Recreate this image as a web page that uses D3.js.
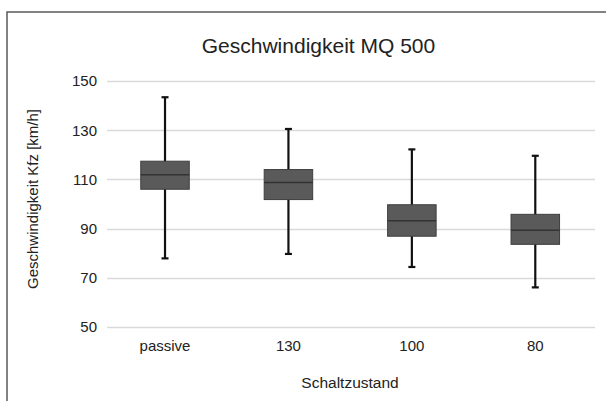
<!DOCTYPE html>
<html>
<head>
<meta charset="utf-8">
<script src="https://cdn.jsdelivr.net/npm/d3@7/dist/d3.min.js"></script>
<style>
  html, body { margin: 0; padding: 0; background: #fff; }
  svg { display: block; }
  text { font-family: "Liberation Sans", Arial, sans-serif; fill: #222; }
</style>
</head>
<body>
<script>
const categories = ["passive", "130", "100", "80"];
const whiskerMax = [143.4, 130.5, 122.2, 119.6];
const q3 = [117.4, 114.0, 99.7, 95.8];
const median = [111.9, 108.7, 93.2, 89.3];
const q1 = [106.0, 101.8, 86.9, 83.6];
const whiskerMin = [77.9, 79.7, 74.4, 66.1];
const yTicks = [50, 70, 90, 110, 130, 150];

const W = 606, H = 401;
const svg = d3.select("body").append("svg").attr("width", W).attr("height", H);

// frame
svg.append("path")
  .attr("d", "M7,401V12H606")
  .attr("fill", "none")
  .attr("stroke", "#595959")
  .attr("stroke-width", 1.5);

const y = d3.scaleLinear().domain([50, 150]).range([327, 81]);
const x = d3.scaleBand().domain(categories).range([103.3, 597]).paddingInner(0).paddingOuter(0);

// gridlines
svg.append("g").selectAll("line").data(yTicks).join("line")
  .attr("x1", 107).attr("x2", 595)
  .attr("y1", d => Math.round(y(d)) + 0.5).attr("y2", d => Math.round(y(d)) + 0.5)
  .attr("stroke", "#d9d9d9").attr("stroke-width", 1.5);

// y axis labels
const yAxis = d3.axisLeft(y).tickValues(yTicks).tickSize(0).tickPadding(0);
const gy = svg.append("g").attr("transform", "translate(97,0)").call(yAxis);
gy.select(".domain").remove();
gy.selectAll("text").style("font-size", "15px").attr("fill", "#222")
  .style("font-family", '"Liberation Sans", Arial, sans-serif');

// x axis labels
const xAxis = d3.axisBottom(x).tickSize(0).tickPadding(0);
const gx = svg.append("g").attr("transform", "translate(0,340)").call(xAxis);
gx.select(".domain").remove();
gx.selectAll("text").style("font-size", "15px").attr("fill", "#222")
  .attr("dy", "0.71em")
  .style("font-family", '"Liberation Sans", Arial, sans-serif');

// boxes
const bw = x.bandwidth() * 0.393;
const data = categories.map((c, i) => ({c, hi: whiskerMax[i], q3: q3[i], med: median[i], q1: q1[i], lo: whiskerMin[i]}));
const g = svg.append("g").selectAll("g").data(data).join("g")
  .attr("transform", d => `translate(${x(d.c) + x.bandwidth() / 2},0)`);

g.append("line").attr("x1", 0).attr("x2", 0)
  .attr("y1", d => y(d.hi)).attr("y2", d => y(d.lo))
  .attr("stroke", "#111").attr("stroke-width", 2.2);
g.append("line").attr("x1", -3.5).attr("x2", 3.5)
  .attr("y1", d => y(d.hi)).attr("y2", d => y(d.hi))
  .attr("stroke", "#111").attr("stroke-width", 2.2);
g.append("line").attr("x1", -3.5).attr("x2", 3.5)
  .attr("y1", d => y(d.lo)).attr("y2", d => y(d.lo))
  .attr("stroke", "#111").attr("stroke-width", 2.2);
g.append("rect")
  .attr("x", -bw / 2).attr("width", bw)
  .attr("y", d => y(d.q3)).attr("height", d => y(d.q1) - y(d.q3))
  .attr("fill", "#5a5a5a").attr("stroke", "#3f3f3f").attr("stroke-width", 1);
g.append("line").attr("x1", -bw / 2).attr("x2", bw / 2)
  .attr("y1", d => y(d.med)).attr("y2", d => y(d.med))
  .attr("stroke", "#333").attr("stroke-width", 1.5);

// title
svg.append("text").attr("x", 318.5).attr("y", 52.5).attr("text-anchor", "middle")
  .style("font-size", "21px").text("Geschwindigkeit MQ 500");

// axis titles
svg.append("text").attr("transform", "translate(38,199) rotate(-90)").attr("text-anchor", "middle")
  .style("font-size", "15px").text("Geschwindigkeit Kfz [km/h]");
svg.append("text").attr("x", 350).attr("y", 387.5).attr("text-anchor", "middle")
  .style("font-size", "15.5px").text("Schaltzustand");
</script>
</body>
</html>
